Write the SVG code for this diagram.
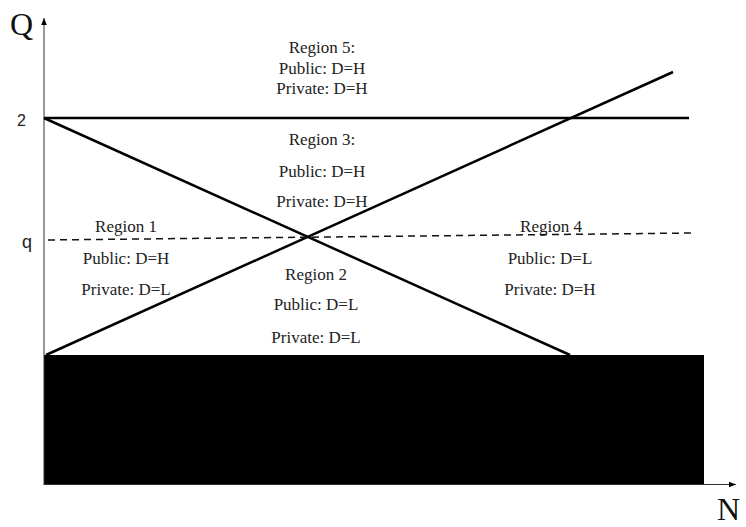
<svg xmlns="http://www.w3.org/2000/svg" width="746" height="527" viewBox="0 0 746 527">
<defs>
<style>
.t{font-family:"Liberation Serif","Times New Roman",serif;font-size:17px;fill:#222;text-anchor:middle}
.ax{stroke:#333;stroke-width:1;fill:none}
.ln{stroke:#000;stroke-width:2.5;fill:none}
.ds{stroke:#111;stroke-width:1.5;stroke-dasharray:7,5;fill:none}
</style>
<marker id="arr" viewBox="0 0 10 10" refX="10" refY="5" markerWidth="7" markerHeight="7" markerUnits="userSpaceOnUse" orient="auto"><path d="M0,1 L10,5 L0,9 Z" fill="#000"/></marker>
</defs>
<rect width="746" height="527" fill="#fff"/>
<g id="blackbox"><rect x="44" y="355" width="660" height="130" fill="#000"/></g>
<g id="axes">
<line class="ax" x1="44" y1="485" x2="44" y2="18" marker-end="url(#arr)"/>
<line class="ax" x1="44" y1="484.5" x2="736" y2="484.5" marker-end="url(#arr)"/>
<text x="10" y="35" font-family="Liberation Serif,serif" font-size="32" fill="#111">Q</text>
<text x="717" y="520" font-family="Liberation Serif,serif" font-size="32" fill="#111">N</text>
<text x="17" y="126" font-family="Liberation Sans,Arial,sans-serif" font-size="16" fill="#222">2</text>
<text x="22" y="248" font-family="Liberation Sans,Arial,sans-serif" font-size="18" fill="#222">q</text>
</g>
<g id="connectors">
<line class="ln" x1="44" y1="118" x2="689" y2="118"/>
<line class="ln" x1="44" y1="118" x2="570" y2="355"/>
<line class="ln" x1="46" y1="355" x2="673" y2="72"/>
<line class="ds" x1="48" y1="240" x2="694" y2="233"/>
</g>
<g id="region5">
<text class="t" x="322" y="53">Region 5:</text>
<text class="t" x="322" y="74">Public: D=H</text>
<text class="t" x="322" y="94">Private: D=H</text>
</g>
<g id="region3">
<text class="t" x="322" y="145">Region 3:</text>
<text class="t" x="322" y="177">Public: D=H</text>
<text class="t" x="322" y="207">Private: D=H</text>
</g>
<g id="region1">
<text class="t" x="126" y="232">Region 1</text>
<text class="t" x="126" y="264">Public: D=H</text>
<text class="t" x="126" y="295">Private: D=L</text>
</g>
<g id="region2">
<text class="t" x="316" y="280">Region 2</text>
<text class="t" x="316" y="310">Public: D=L</text>
<text class="t" x="316" y="343">Private: D=L</text>
</g>
<g id="region4">
<text class="t" x="551" y="232">Region 4</text>
<text class="t" x="550" y="264">Public: D=L</text>
<text class="t" x="550" y="295">Private: D=H</text>
</g>
</svg>
